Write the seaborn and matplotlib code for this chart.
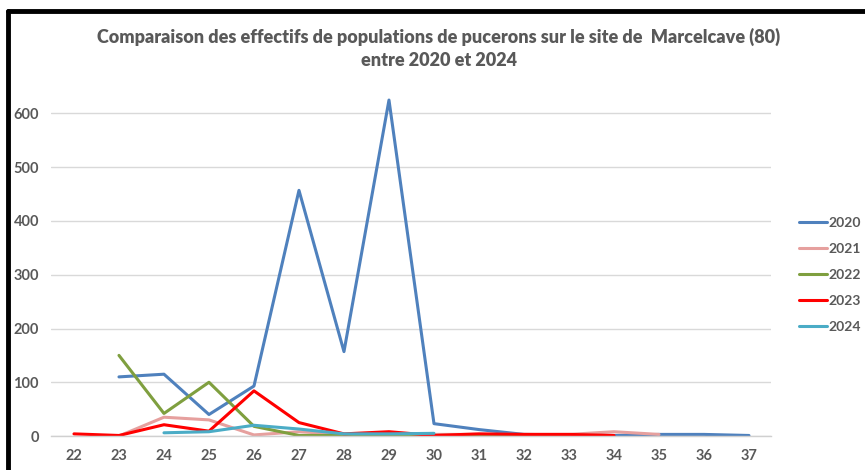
import numpy as np
import pandas as pd
import matplotlib
matplotlib.use("Agg")
import matplotlib.pyplot as plt
import seaborn as sns
from matplotlib.lines import Line2D

nan = np.nan
weeks = list(range(22, 38))
y2020 = [nan, 110, 115, 40, 93, 457, 157, 625, 23, 12, 3, 2, 1, 3, 3, 1]
y2021 = [nan, 0, 35, 30, 2, 8, 3, 2, 3, 3, 3, 3, 8, 3, nan, nan]
y2022 = [nan, 150, 42, 100, 18, 1, 1, 1, 1, 1, 1, 1, nan, nan, nan, nan]
y2023 = [4, 1, 21, 9, 84, 25, 4, 8, 1, 4, 3, 3, 1, nan, nan, nan]
y2024 = [nan, nan, 6, 8, 20, 13, 4, 4, 5, nan, nan, nan, nan, nan, nan, nan]
years = ["2020", "2021", "2022", "2023", "2024"]
colors = ["#4f81bd", "#e6a09e", "#7f9f3f", "#ff0000", "#4bacc6"]

series = [y2020, y2021, y2022, y2023, y2024]
df = pd.concat(
    [pd.DataFrame({"semaine": weeks, "effectif": s, "annee": yr}) for yr, s in zip(years, series)]
)

sns.set_style("white")
plt.rcParams["font.family"] = ["Lato", "DejaVu Sans"]

fig = plt.figure(figsize=(8.65, 4.7), dpi=100)
ax = fig.add_axes([0.0595, 0.0723, 0.8324, 0.732])

for yr, col in zip(years, colors):
    sub = df[df["annee"] == yr].dropna()
    sns.lineplot(data=sub, x="semaine", y="effectif", color=col, linewidth=2.2,
                 ax=ax, legend=False, sort=False)

ax.set_xlim(21.5, 37.5)
ax.set_ylim(0, 640)
ax.set_yticks(range(0, 700, 100))
ax.set_xticks(weeks)
ax.set_xticks(np.arange(21.5, 38, 1), minor=True)
ax.tick_params(axis="x", which="major", length=0, pad=9)
ax.tick_params(axis="x", which="minor", length=5, color="#d0d0d0", direction="out")
ax.tick_params(axis="y", length=0, pad=9)
for lab in ax.get_xticklabels() + ax.get_yticklabels():
    lab.set_fontsize(10.5)
    lab.set_fontweight("bold")
    lab.set_color("#595959")
ax.set_xlabel("")
ax.set_ylabel("")
ax.yaxis.grid(True, color="#d9d9d9", linewidth=1)
ax.set_axisbelow(True)
for s in ["top", "right", "left"]:
    ax.spines[s].set_visible(False)
ax.spines["bottom"].set_color("#d0d0d0")
ax.spines["bottom"].set_linewidth(1)

handles = [Line2D([0], [0], color=c, linewidth=2.2) for c in colors]
leg = fig.legend(handles, years, loc="upper left", bbox_to_anchor=(0.909, 0.565),
                 frameon=False, handlelength=2.0, handletextpad=0.12, labelspacing=1.0,
                 prop={"size": 10, "weight": "bold"})
for t in leg.get_texts():
    t.set_color("#595959")

fig.text(0.507, 0.921, "Comparaison des effectifs de populations de pucerons sur le site de  Marcelcave (80)",
         ha="center", va="center", fontsize=13, fontweight="heavy", color="#595959")
fig.text(0.507, 0.872, "entre 2020 et 2024",
         ha="center", va="center", fontsize=13, fontweight="heavy", color="#595959")

# black frame (top and left)
fig.add_artist(Line2D([0.0095, 1.0], [0.976, 0.976], color="black", linewidth=3.5, transform=fig.transFigure))
fig.add_artist(Line2D([0.0095, 0.0095], [0.0, 0.976], color="black", linewidth=3.5, transform=fig.transFigure))

fig.savefig("out.png", dpi=100)
